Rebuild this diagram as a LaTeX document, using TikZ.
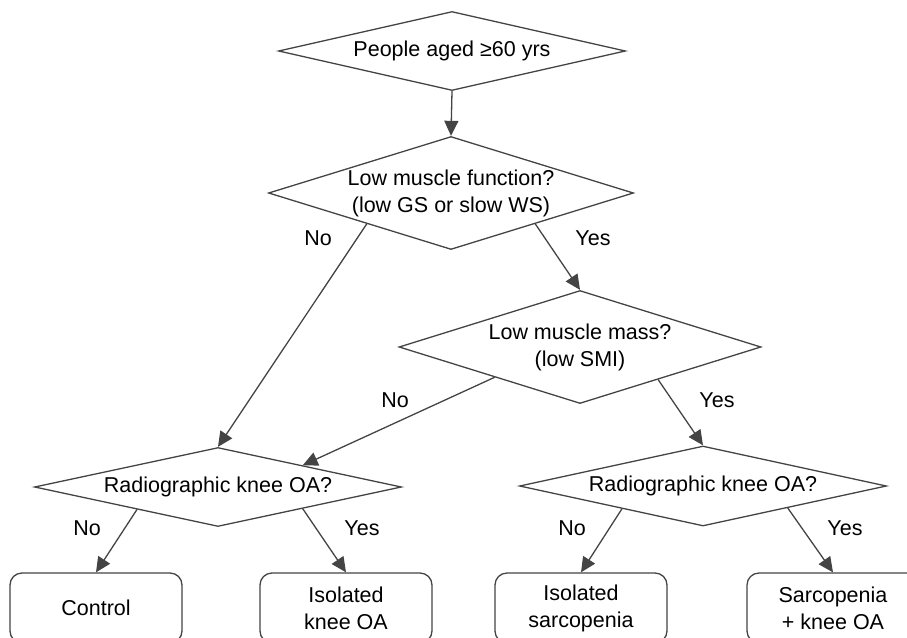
\documentclass[tikz,border=0pt]{standalone}
\usepackage{fontspec}
\setmainfont{Liberation Sans}
\usetikzlibrary{shapes.geometric,arrows.meta,calc}
\definecolor{linegray}{HTML}{444444}
\tikzset{
  every node/.style={font=\fontsize{21.5}{27}\selectfont},
  decision/.style={diamond, draw=linegray, line width=1.3pt, inner sep=0pt, align=center},
  outcome/.style={rectangle, rounded corners=12pt, draw=linegray, line width=1.3pt,
    minimum width=172pt, minimum height=70pt, align=center},
  flow/.style={draw=linegray, line width=1.3pt, -{Triangle[length=15pt,width=14pt]}}
}
\begin{document}
\begin{tikzpicture}[x=1pt,y=-1pt]
    \useasboundingbox (0,0) rectangle (907,637);
    \clip (0,0) rectangle (907,637);
    % decisions
    \node[decision, minimum width=347pt, minimum height=79pt, shape aspect=4.4] (aged) at (452,51) {People aged ≥60 yrs};
    \node[decision, minimum width=365pt, minimum height=113pt, shape aspect=3.2] (func) at (451,193) {Low muscle function?\\(low GS or slow WS)};
    \node[decision, minimum width=362pt, minimum height=113pt, shape aspect=3.2] (mass) at (580,347) {Low muscle mass?\\(low SMI)};
    \node[decision, minimum width=367pt, minimum height=79pt, shape aspect=4.6] (oaleft) at (218,487) {Radiographic knee OA?};
    \node[decision, minimum width=367pt, minimum height=80pt, shape aspect=4.6] (oaright) at (703,486) {Radiographic knee OA?};
    % outcomes
    \node[outcome] (control) at (96,608) {Control};
    \node[outcome] (kneeoa) at (346,608) {Isolated\\knee OA};
    \node[outcome] (sarco) at (581,608) {Isolated\\sarcopenia};
    \node[outcome] (both) at (833,608) {Sarcopenia\\+ knee OA};
    % connectors
    \draw[flow] (aged.south) -- (func.north);
    \draw[flow] ($(func.west)!0.54!(func.south)$) -- (oaleft.north);
    \draw[flow] ($(func.south)!0.46!(func.east)$) -- (mass.north);
    \draw[flow] ($(mass.west)!0.53!(mass.south)$) -- ($(oaleft.north)!0.46!(oaleft.east)$);
    \draw[flow] ($(mass.south)!0.43!(mass.east)$) -- (oaright.north);
    \draw[flow] ($(oaleft.west)!0.56!(oaleft.south)$) -- (control.north);
    \draw[flow] ($(oaleft.south)!0.46!(oaleft.east)$) -- (kneeoa.north);
    \draw[flow] ($(oaright.west)!0.56!(oaright.south)$) -- (sarco.north);
    \draw[flow] ($(oaright.south)!0.46!(oaright.east)$) -- (both.north);
    % labels
    \node (funcno) at (318,238) {No};
    \node (funcyes) at (593,238) {Yes};
    \node (massno) at (395,400) {No};
    \node (massyes) at (717,400) {Yes};
    \node (leftno) at (87,528) {No};
    \node (leftyes) at (362,528) {Yes};
    \node (rightno) at (572,528) {No};
    \node (rightyes) at (845,528) {Yes};
\end{tikzpicture}
\end{document}
